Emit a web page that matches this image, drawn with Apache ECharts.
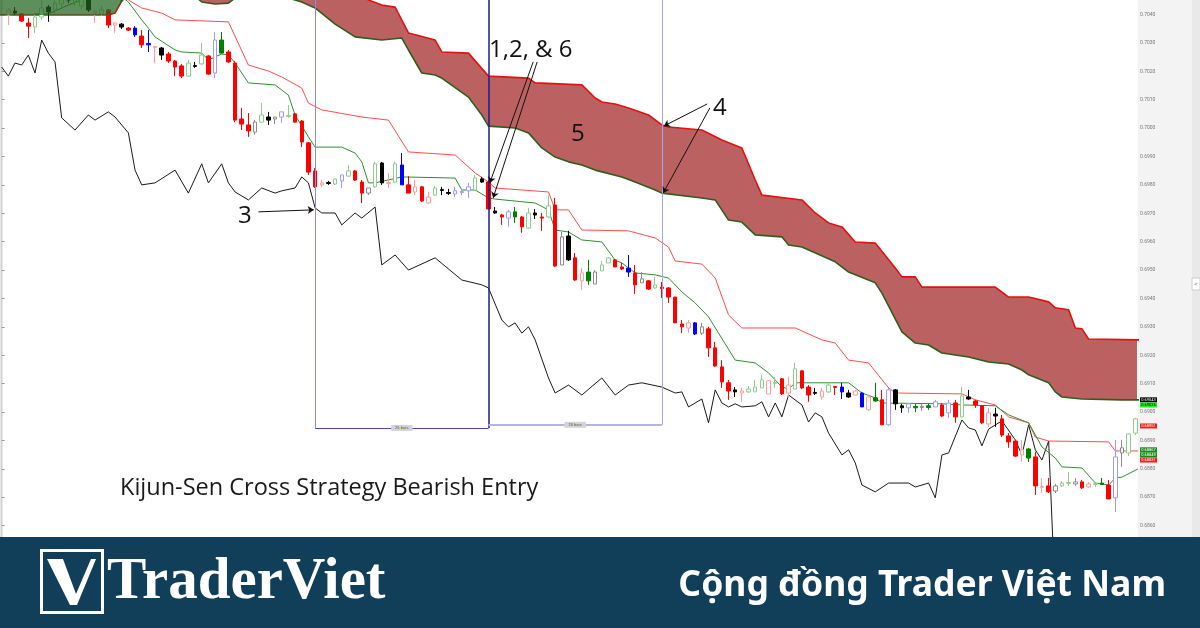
<!DOCTYPE html>
<html>
<head>
<meta charset="utf-8">
<script src="https://cdn.jsdelivr.net/npm/echarts@6/dist/echarts.min.js"></script>
<style>
html,body{margin:0;padding:0;background:#fff;}
#main{width:1200px;height:628px;}
</style>
</head>
<body>
<div id="main"></div>
<script>
// bar index of the first candle
var firstBar = 1;

// candle colour class per bar: r red, p pink hollow, g green hollow, G green, k black, b blue, l light blue hollow, w grey hollow
var candleKinds = ('pkrrggkggk' + 'ggkpgrpkrb' + 'rbpkrrrgkg' + 'rlGrrrrwgk' + 'wlgrrrrpkg' +
    'lgrrwgkpgb' + 'rprpgkklll' + 'gkrkrlGrgk' + 'rgrwkrpGwg' + 'grrbrwrgrr' +
    'rrpbwrrrrk' + 'pgggpgrpgr' + 'rkpgrbkpbp' + 'GrlkklGwGl' + 'rlrgkrrpkr' +
    'rrpGrprwgg' + 'wrpgGrlwgg').split('');

// [open, close, low, high]
var candles = [
    [0.70416,0.70398,0.70363,0.70423],[0.70412,0.70405,0.70398,0.70426],[0.70402,0.70377,0.70374,0.70405],
    [0.70370,0.70359,0.70317,0.70388],[0.70356,0.70391,0.70335,0.70405],[0.70391,0.70423,0.70381,0.70451],
    [0.70426,0.70409,0.70374,0.70433],[0.70416,0.70440,0.70402,0.70451],[0.70437,0.70462,0.70423,0.70479],
    [0.70472,0.70451,0.70440,0.70486],[0.70444,0.70465,0.70430,0.70479],[0.70430,0.70458,0.70419,0.70472],
    [0.70451,0.70416,0.70409,0.70462],[0.70412,0.70405,0.70370,0.70416],[0.70402,0.70416,0.70395,0.70430],
    [0.70416,0.70363,0.70352,0.70419],[0.70370,0.70363,0.70335,0.70374],[0.70366,0.70356,0.70349,0.70370],
    [0.70352,0.70345,0.70342,0.70356],[0.70352,0.70328,0.70321,0.70359],[0.70324,0.70293,0.70282,0.70345],
    [0.70298,0.70293,0.70268,0.70345],[0.70287,0.70284,0.70229,0.70289],[0.70282,0.70257,0.70240,0.70286],
    [0.70261,0.70236,0.70229,0.70268],[0.70236,0.70215,0.70183,0.70240],[0.70219,0.70183,0.70176,0.70226],
    [0.70183,0.70229,0.70180,0.70240],[0.70220,0.70217,0.70212,0.70233],[0.70226,0.70257,0.70222,0.70300],
    [0.70254,0.70190,0.70187,0.70257],[0.70194,0.70310,0.70176,0.70338],[0.70264,0.70310,0.70261,0.70338],
    [0.70268,0.70233,0.70229,0.70275],[0.70229,0.70028,0.70021,0.70236],[0.70032,0.70014,0.69993,0.70071],
    [0.70011,0.69990,0.69969,0.70053],[0.69986,0.70021,0.69976,0.70028],[0.70021,0.70046,0.70018,0.70088],
    [0.70039,0.70028,0.70011,0.70057],[0.70032,0.70039,0.70014,0.70039],[0.70039,0.70057,0.70018,0.70057],
    [0.70041,0.70044,0.70036,0.70081],[0.70050,0.70021,0.70018,0.70053],[0.70025,0.69951,0.69933,0.70028],
    [0.69948,0.69845,0.69835,0.69951],[0.69849,0.69793,0.69789,0.69859],[0.69807,0.69800,0.69793,0.69817],
    [0.69808,0.69805,0.69800,0.69814],[0.69803,0.69821,0.69800,0.69821],[0.69814,0.69835,0.69789,0.69835],
    [0.69831,0.69849,0.69828,0.69870],[0.69849,0.69817,0.69814,0.69852],[0.69810,0.69771,0.69736,0.69817],
    [0.69771,0.69789,0.69764,0.69789],[0.69793,0.69874,0.69789,0.69881],[0.69877,0.69807,0.69800,0.69881],
    [0.69808,0.69805,0.69789,0.69842],[0.69810,0.69874,0.69807,0.69881],[0.69870,0.69800,0.69800,0.69912],
    [0.69800,0.69771,0.69771,0.69831],[0.69793,0.69775,0.69764,0.69817],[0.69793,0.69743,0.69740,0.69796],
    [0.69757,0.69736,0.69733,0.69775],[0.69764,0.69789,0.69761,0.69796],[0.69784,0.69780,0.69764,0.69793],
    [0.69773,0.69770,0.69764,0.69786],[0.69768,0.69779,0.69757,0.69793],[0.69773,0.69777,0.69764,0.69789],
    [0.69779,0.69793,0.69754,0.69807],[0.69782,0.69824,0.69779,0.69835],[0.69821,0.69810,0.69807,0.69828],
    [0.69810,0.69715,0.69712,0.69817],[0.69708,0.69701,0.69698,0.69722],[0.69694,0.69687,0.69659,0.69698],
    [0.69683,0.69705,0.69652,0.69712],[0.69687,0.69705,0.69666,0.69722],[0.69687,0.69652,0.69631,0.69690],
    [0.69648,0.69701,0.69645,0.69719],[0.69701,0.69694,0.69680,0.69715],[0.69687,0.69683,0.69638,0.69701],
    [0.69687,0.69726,0.69683,0.69764],[0.69729,0.69514,0.69511,0.69754],[0.69518,0.69617,0.69518,0.69634],
    [0.69620,0.69536,0.69532,0.69638],[0.69543,0.69465,0.69462,0.69560],[0.69490,0.69462,0.69430,0.69507],
    [0.69462,0.69493,0.69448,0.69536],[0.69451,0.69493,0.69451,0.69500],[0.69497,0.69518,0.69497,0.69532],
    [0.69525,0.69543,0.69525,0.69546],[0.69536,0.69511,0.69511,0.69539],[0.69511,0.69504,0.69500,0.69525],
    [0.69507,0.69493,0.69476,0.69553],[0.69490,0.69448,0.69416,0.69518],[0.69455,0.69469,0.69455,0.69493],
    [0.69462,0.69433,0.69430,0.69465],[0.69437,0.69448,0.69433,0.69476],[0.69440,0.69435,0.69402,0.69458],
    [0.69437,0.69405,0.69384,0.69440],[0.69405,0.69314,0.69314,0.69405],[0.69310,0.69300,0.69278,0.69324],
    [0.69314,0.69296,0.69278,0.69324],[0.69314,0.69275,0.69271,0.69317],[0.69278,0.69300,0.69271,0.69314],
    [0.69293,0.69226,0.69194,0.69300],[0.69226,0.69162,0.69159,0.69247],[0.69159,0.69106,0.69085,0.69183],
    [0.69103,0.69074,0.69043,0.69113],[0.69078,0.69071,0.69053,0.69088],[0.69074,0.69067,0.69036,0.69085],
    [0.69071,0.69081,0.69067,0.69092],[0.69071,0.69088,0.69071,0.69113],[0.69085,0.69113,0.69085,0.69131],
    [0.69110,0.69064,0.69064,0.69110],[0.69101,0.69104,0.69085,0.69124],[0.69117,0.69064,0.69060,0.69120],
    [0.69095,0.69067,0.69053,0.69124],[0.69081,0.69152,0.69081,0.69173],[0.69145,0.69085,0.69081,0.69148],
    [0.69088,0.69060,0.69036,0.69095],[0.69069,0.69066,0.69060,0.69085],[0.69074,0.69053,0.69043,0.69085],
    [0.69071,0.69095,0.69067,0.69103],[0.69090,0.69087,0.69060,0.69092],[0.69088,0.69071,0.69046,0.69103],
    [0.69067,0.69053,0.69050,0.69078],[0.69074,0.69060,0.69060,0.69078],[0.69067,0.69018,0.69018,0.69071],
    [0.69053,0.69008,0.69004,0.69060],[0.69039,0.69050,0.69036,0.69103],[0.69043,0.68955,0.68955,0.69078],
    [0.68955,0.69078,0.68951,0.69085],[0.69078,0.69029,0.69008,0.69081],[0.69022,0.69015,0.68997,0.69029],
    [0.69015,0.69029,0.68997,0.69029],[0.69015,0.69020,0.69000,0.69029],[0.69016,0.69020,0.69004,0.69029],
    [0.69016,0.69022,0.69008,0.69029],[0.69018,0.69036,0.69018,0.69043],[0.69025,0.68986,0.68983,0.69032],
    [0.68997,0.69032,0.68979,0.69043],[0.69032,0.68983,0.68962,0.69043],[0.68983,0.69057,0.68983,0.69088],
    [0.69053,0.69046,0.69043,0.69078],[0.69039,0.69025,0.69015,0.69043],[0.69022,0.68962,0.68958,0.69025],
    [0.68997,0.68958,0.68948,0.69015],[0.68993,0.68986,0.68948,0.69015],[0.68976,0.68919,0.68912,0.68990],
    [0.68916,0.68895,0.68874,0.68926],[0.68898,0.68845,0.68842,0.68902],[0.68867,0.68849,0.68824,0.68902],
    [0.68838,0.68870,0.68824,0.68874],[0.68842,0.68740,0.68708,0.68860],[0.68738,0.68735,0.68715,0.68768],
    [0.68740,0.68719,0.68715,0.68768],[0.68722,0.68740,0.68715,0.68747],[0.68740,0.68750,0.68736,0.68757],
    [0.68749,0.68752,0.68740,0.68789],[0.68747,0.68754,0.68740,0.68768],[0.68754,0.68733,0.68729,0.68761],
    [0.68747,0.68736,0.68733,0.68754],[0.68745,0.68749,0.68736,0.68754],[0.68745,0.68750,0.68743,0.68768],
    [0.68743,0.68694,0.68694,0.68761],[0.68698,0.68842,0.68648,0.68902],[0.68856,0.68874,0.68807,0.68902],
    [0.68856,0.68923,0.68845,0.68926],[0.68926,0.68976,0.68919,0.68979]
];

// [bar, price]
var redLine = [[17,0.70539],[19,0.70451],[21,0.70423],[24,0.70405],[26,0.70381],[34,0.70374],[37,0.70222],
    [40,0.70201],[42,0.70180],[45,0.70141],[46,0.70088],[48,0.70064],[54,0.70039],[58,0.70028],[61,0.69916],
    [68,0.69905],[71,0.69842],[73,0.69810],[74,0.69789],[82,0.69775],[83,0.69712],[85,0.69712],[87,0.69641],
    [94,0.69638],[98,0.69613],[100,0.69581],[101,0.69532],[105,0.69521],[107,0.69472],[109,0.69342],
    [111,0.69296],[119,0.69296],[123,0.69254],[125,0.69243],[127,0.69183],[130,0.69173],[133,0.69085],
    [134,0.69067],[144,0.69064],[146,0.69043],[149,0.69025],[151,0.68983],[154,0.68962],[155,0.68912],
    [157,0.68898],[166,0.68895],[167,0.68863],[171,0.68863]];

var greenLine = [[5,0.70402],[7,0.70402],[10,0.70433],[12,0.70451],[15,0.70469],[18,0.70462],[19,0.70444],
    [21,0.70381],[22,0.70352],[23,0.70321],[26,0.70275],[27,0.70268],[30,0.70264],[31,0.70240],[33,0.70261],
    [34,0.70257],[35,0.70229],[37,0.70159],[41,0.70152],[43,0.70116],[44,0.70046],[46,0.69969],[47,0.69933],
    [51,0.69933],[53,0.69912],[54,0.69881],[55,0.69807],[56,0.69807],[60,0.69828],[68,0.69824],[69,0.69782],
    [71,0.69782],[73,0.69754],[74,0.69750],[80,0.69736],[82,0.69712],[83,0.69641],[85,0.69634],[87,0.69606],
    [90,0.69599],[92,0.69535],[93,0.69525],[95,0.69490],[98,0.69483],[100,0.69472],[102,0.69423],
    [104,0.69384],[106,0.69335],[110,0.69183],[113,0.69173],[115,0.69138],[117,0.69088],[118,0.69081],
    [119,0.69103],[127,0.69103],[129,0.69067],[131,0.69050],[132,0.69032],[141,0.69029],[144,0.69025],
    [149,0.69022],[151,0.68990],[154,0.68962],[156,0.68877],[158,0.68838],[159,0.68807],[162,0.68803],
    [164,0.68750],[166,0.68743],[167,0.68768],[168,0.68771],[171,0.68807]];

var laggingLine = [[0,0.70215],[1,0.70183],[2,0.70229],[3,0.70222],[4,0.70257],[5,0.70194],[6,0.70310],
    [7,0.70264],[8,0.70233],[9,0.70036],[11,0.69993],[13,0.70046],[14,0.70028],[16,0.70057],[17,0.70039],
    [19,0.69983],[20,0.69852],[21,0.69800],[23,0.69807],[26,0.69852],[28,0.69771],[30,0.69874],[31,0.69807],
    [33,0.69874],[34,0.69807],[35,0.69775],[37,0.69747],[39,0.69789],[41,0.69771],[42,0.69779],[44,0.69789],
    [45,0.69828],[46,0.69807],[47,0.69719],[48,0.69701],[50,0.69701],[51,0.69659],[53,0.69701],[54,0.69683],
    [56,0.69722],[57,0.69518],[59,0.69553],[61,0.69500],[65,0.69543],[69,0.69465],[72,0.69448],[73,0.69437],
    [75,0.69324],[76,0.69300],[77,0.69314],[78,0.69278],[79,0.69300],[80,0.69254],[82,0.69120],[83,0.69067],
    [85,0.69095],[87,0.69060],[90,0.69120],[92,0.69060],[94,0.69095],[96,0.69103],[99,0.69088],[101,0.69067],
    [102,0.69071],[103,0.69018],[105,0.69046],[106,0.68962],[107,0.69078],[108,0.69032],[109,0.69018],
    [110,0.69029],[111,0.69018],[113,0.69022],[114,0.69036],[115,0.68983],[116,0.69032],[117,0.68983],
    [118,0.69060],[120,0.69025],[121,0.68965],[122,0.68997],[123,0.68983],[124,0.68926],[126,0.68849],
    [127,0.68867],[128,0.68821],[129,0.68743],[131,0.68719],[133,0.68750],[136,0.68750],[137,0.68736],
    [139,0.68750],[140,0.68698],[141,0.68849],[142,0.68856],[144,0.68972],[145,0.68944],[146,0.68937],
    [147,0.68881],[148,0.68940],[150,0.68969],[152,0.68902],[153,0.68849],[154,0.68955],[155,0.68867],
    [156,0.68831],[157,0.68898],[158,0.68338]];

var spanA = [[-1,0.70557],[16,0.70539],[17,0.70504],[18,0.70447],[19,0.70472],[29,0.70465],[30,0.70444],
    [32,0.70437],[34,0.70440],[35,0.70458],[42,0.70465],[45,0.70444],[47,0.70423],[50,0.70366],[53,0.70321],
    [57,0.70310],[60,0.70317],[61,0.70275],[63,0.70194],[65,0.70187],[66,0.70176],[70,0.70109],[72,0.70046],
    [73,0.70007],[77,0.70000],[79,0.69983],[81,0.69930],[83,0.69898],[85,0.69881],[87,0.69870],[89,0.69852],
    [93,0.69828],[95,0.69810],[98,0.69782],[99,0.69771],[105,0.69754],[107,0.69747],[109,0.69676],
    [111,0.69669],[113,0.69624],[117,0.69617],[118,0.69588],[120,0.69581],[125,0.69529],[127,0.69493],
    [131,0.69455],[132,0.69419],[135,0.69282],[137,0.69243],[139,0.69236],[141,0.69208],[145,0.69194],
    [148,0.69176],[151,0.69169],[153,0.69148],[154,0.69131],[157,0.69103],[158,0.69071],[159,0.69053],
    [162,0.69046],[168,0.69043],[171,0.69043]];

var spanB = [[-1,0.70398],[16,0.70398],[17,0.70405],[18,0.70447],[19,0.70504],[54,0.70469],[55,0.70451],
    [57,0.70433],[59,0.70426],[61,0.70335],[65,0.70310],[66,0.70268],[70,0.70264],[73,0.70183],[79,0.70176],
    [80,0.70159],[87,0.70152],[89,0.70106],[90,0.70092],[92,0.70085],[94,0.70071],[97,0.70046],[99,0.70011],
    [100,0.70004],[105,0.69993],[108,0.69958],[111,0.69930],[113,0.69817],[114,0.69764],[120,0.69747],
    [122,0.69701],[124,0.69666],[126,0.69652],[128,0.69599],[131,0.69595],[134,0.69507],[135,0.69476],
    [137,0.69476],[138,0.69440],[149,0.69440],[151,0.69405],[154,0.69405],[157,0.69388],[158,0.69367],
    [160,0.69360],[161,0.69296],[162,0.69293],[163,0.69257],[171,0.69254]];

// bar where the two spans cross (green cloud before, red cloud after)
var crossBar = 18;

// last-value tags on the price scale
var tagPrices = [0.69043, 0.69025, 0.68951, 0.68867, 0.68849, 0.68831];

var kindStyle = {
    r: {fill: '#ff0000', line: '#ff0000'},
    p: {fill: '#ffffff', line: '#ff9c9c'},
    g: {fill: '#ffffff', line: '#8ccf8c'},
    G: {fill: '#008000', line: '#008000'},
    k: {fill: '#000000', line: '#000000'},
    b: {fill: '#0000ff', line: '#0000ff'},
    l: {fill: '#ffffff', line: '#9c9cff'},
    w: {fill: '#ffffff', line: '#8c8c8c'}
};

var chart = echarts.init(document.getElementById('main'));

function cloudSeries(points, fill, z) {
    return {
        type: 'custom', z: z, silent: true, animation: false,
        data: [points[0]],
        encode: {x: 0, y: 1},
        renderItem: function (params, api) {
            var cs = params.coordSys;
            return {
                type: 'polygon',
                shape: {points: points.map(function (p) { return api.coord(p); })},
                style: {fill: fill},
                clipPath: {type: 'rect', shape: {x: cs.x, y: cs.y, width: cs.width, height: cs.height}}
            };
        }
    };
}

var greenCloud = spanA.filter(function (p) { return p[0] <= crossBar; })
    .concat(spanB.filter(function (p) { return p[0] <= crossBar; }).reverse());
var redCloud = spanB.filter(function (p) { return p[0] >= crossBar; })
    .concat(spanA.filter(function (p) { return p[0] >= crossBar; }).reverse());

var candleData = candles.map(function (c, i) {
    var s = kindStyle[candleKinds[i]];
    return {
        value: [firstBar + i].concat(c),
        itemStyle: {color: s.fill, color0: s.fill, borderColor: s.line, borderColor0: s.line,
            borderColorDoji: s.line, borderWidth: 1}
    };
});

function lineSeries(data, color, width, z) {
    return {type: 'line', data: data, symbol: 'none', silent: true, animation: false, z: z,
        lineStyle: {color: color, width: width}};
}

function seg(a, b, style, endSymbol) {
    return [
        {coord: a, symbol: 'none', lineStyle: style},
        {coord: b, symbol: endSymbol || 'none', symbolSize: 6}
    ];
}

var topPrice = 0.70451;
var measureLow = 0.68944, measureLow2 = 0.68955;
var arrowStyle = {color: '#111', width: 1, type: 'solid'};

var option = {
    animation: false,
    backgroundColor: '#ffffff',
    grid: {left: 0, right: 63, top: 0, bottom: 91, containLabel: false, outerBoundsMode: 'none'},
    xAxis: {type: 'value', min: -0.25, max: 170.25, show: false},
    yAxis: {
        type: 'value', position: 'right', min: 0.68560, max: topPrice, splitNumber: 19,
        axisLine: {show: true, lineStyle: {color: '#d2d2d2'}},
        axisTick: {show: true, length: 3, lineStyle: {color: '#999'}},
        axisLabel: {fontSize: 5, color: '#777', margin: 3, showMinLabel: false, showMaxLabel: false,
            fontFamily: 'Roboto', formatter: function (v) { return v.toFixed(4); }},
        splitLine: {show: false}
    },
    series: [
        cloudSeries(redCloud, 'rgba(160,30,30,0.7)', 1),
        lineSeries(spanB, '#e41010', 1.6, 2),
        lineSeries(spanA, '#2e5e1e', 1.6, 2),
        lineSeries(laggingLine, '#1a1a1a', 1, 3),
        lineSeries(redLine, '#ff4d4d', 1, 3),
        lineSeries(greenLine, '#2f8f2f', 1, 3),
        {
            type: 'candlestick', z: 4, barWidth: 4, silent: true, animation: false,
            encode: {x: 0, y: [1, 2, 3, 4]},
            data: candleData
        },
        cloudSeries(greenCloud, 'rgba(30,100,30,0.72)', 6),
        {
            type: 'line', data: [], z: 8, silent: true,
            markLine: {
                silent: true, animation: false, symbol: ['none', 'none'],
                label: {show: false},
                lineStyle: {type: 'solid'},
                data: [
                    seg([47, topPrice], [47, measureLow], {color: '#8c8ce6', width: 1, type: 'solid'}),
                    seg([73, topPrice], [73, measureLow], {color: '#1c1c8c', width: 1.5, type: 'solid'}),
                    seg([99, topPrice], [99, measureLow2], {color: '#a8a8e6', width: 1, type: 'solid'}),
                    [
                        {coord: [47, measureLow], symbol: 'none', lineStyle: {color: '#4a4ac8', width: 1, type: 'solid'},
                            label: {show: true, position: 'insideMiddle', distance: 0, formatter: '26 bars',
                                fontSize: 4, color: '#555', backgroundColor: '#d4d4d4', padding: [1, 4]}},
                        {coord: [73, measureLow], symbol: 'none'}
                    ],
                    [
                        {coord: [73, measureLow2], symbol: 'none', lineStyle: {color: '#b4b4ea', width: 2, type: 'solid'},
                            label: {show: true, position: 'insideMiddle', distance: 0, formatter: '26 bars',
                                fontSize: 4, color: '#555', backgroundColor: '#d4d4d4', padding: [1, 4]}},
                        {coord: [99, measureLow2], symbol: 'none'}
                    ],
                    seg([38.5, 0.69705], [46.8, 0.69712], arrowStyle, 'arrow'),
                    seg([79.7, 0.70233], [73.2, 0.69807], arrowStyle, 'arrow'),
                    seg([80.3, 0.70233], [73.7, 0.69754], arrowStyle, 'arrow'),
                    seg([105.8, 0.70085], [99.3, 0.70007], arrowStyle, 'arrow'),
                    seg([106.2, 0.70071], [99.2, 0.69771], arrowStyle, 'arrow')
                ]
            }
        }
    ]
};

chart.setOption(option);

var tagColors = [['#000000', '#ffffff'], ['#22ee22', '#000000'], ['#ff1a1a', '#ffffff'],
    ['#188a18', '#ffffff'], ['#188a18', '#ffffff'], ['#ff1a1a', '#ffffff']];

var elements = [
    {type: 'rect', z: -10, shape: {x: 1138, y: 0, width: 62, height: 537}, style: {fill: '#f3f3f3'}},
    {type: 'rect', z: -10, shape: {x: 1192, y: 0, width: 8, height: 537}, style: {fill: '#e9e9e9'}},
    {type: 'rect', z: -10, shape: {x: 0, y: 0, width: 3, height: 537}, style: {fill: '#e6e6e6'}},
    {type: 'rect', z: 50, shape: {x: 1192, y: 278, width: 8, height: 12}, style: {fill: '#fff', stroke: '#ccc', lineWidth: 1}},
    {type: 'text', z: 51, style: {x: 1196, y: 284, text: '<', font: '6px sans-serif', fill: '#666', align: 'center', verticalAlign: 'middle'}},
    {type: 'text', z: 50, style: {x: 489, y: 50, text: '1,2, & 6', font: '24px "Open Sans"', fill: '#111', verticalAlign: 'middle'}},
    {type: 'text', z: 50, style: {x: 238, y: 216, text: '3', font: '24px "Open Sans"', fill: '#111', verticalAlign: 'middle'}},
    {type: 'text', z: 50, style: {x: 713, y: 108, text: '4', font: '24px "Open Sans"', fill: '#111', verticalAlign: 'middle'}},
    {type: 'text', z: 50, style: {x: 571, y: 134, text: '5', font: '24px "Open Sans"', fill: '#111', verticalAlign: 'middle'}},
    {type: 'text', z: 50, style: {x: 120, y: 488, text: 'Kijun-Sen Cross Strategy Bearish Entry', font: '23.5px "Open Sans"', fill: '#1a1a1a', verticalAlign: 'middle'}},
    {type: 'rect', z: 100, shape: {x: 0, y: 537, width: 1200, height: 91}, style: {fill: '#113f59'}},
    {type: 'rect', z: 101, shape: {x: 41.5, y: 550.5, width: 61, height: 62}, style: {fill: 'none', stroke: '#ffffff', lineWidth: 3}},
    {type: 'polygon', z: 101, shape: {points: [[47, 559], [63, 559], [76, 594], [91, 559], [96, 559], [77, 605], [70, 605]]}, style: {fill: '#ffffff'}},
    {type: 'text', z: 101, style: {x: 107, y: 583, text: 'TraderViet', font: 'bold 59px "Liberation Serif"', fill: '#ffffff', verticalAlign: 'middle'}},
    {type: 'text', z: 101, style: {x: 1166, y: 586, text: 'Cộng đồng Trader Việt Nam', font: 'bold 35.5px "Noto Sans"', fill: '#ffffff', align: 'right', verticalAlign: 'middle'}}
];

tagPrices.forEach(function (p, i) {
    var y = chart.convertToPixel({yAxisIndex: 0}, p);
    elements.push({type: 'rect', z: 60, shape: {x: 1140, y: y - 2.5, width: 17, height: 5}, style: {fill: tagColors[i][0]}});
    elements.push({type: 'text', z: 61, style: {x: 1148.5, y: y, text: p.toFixed(5), font: '4px Roboto', fill: tagColors[i][1], align: 'center', verticalAlign: 'middle'}});
});

chart.setOption({graphic: {elements: elements}});
</script>
</body>
</html>
